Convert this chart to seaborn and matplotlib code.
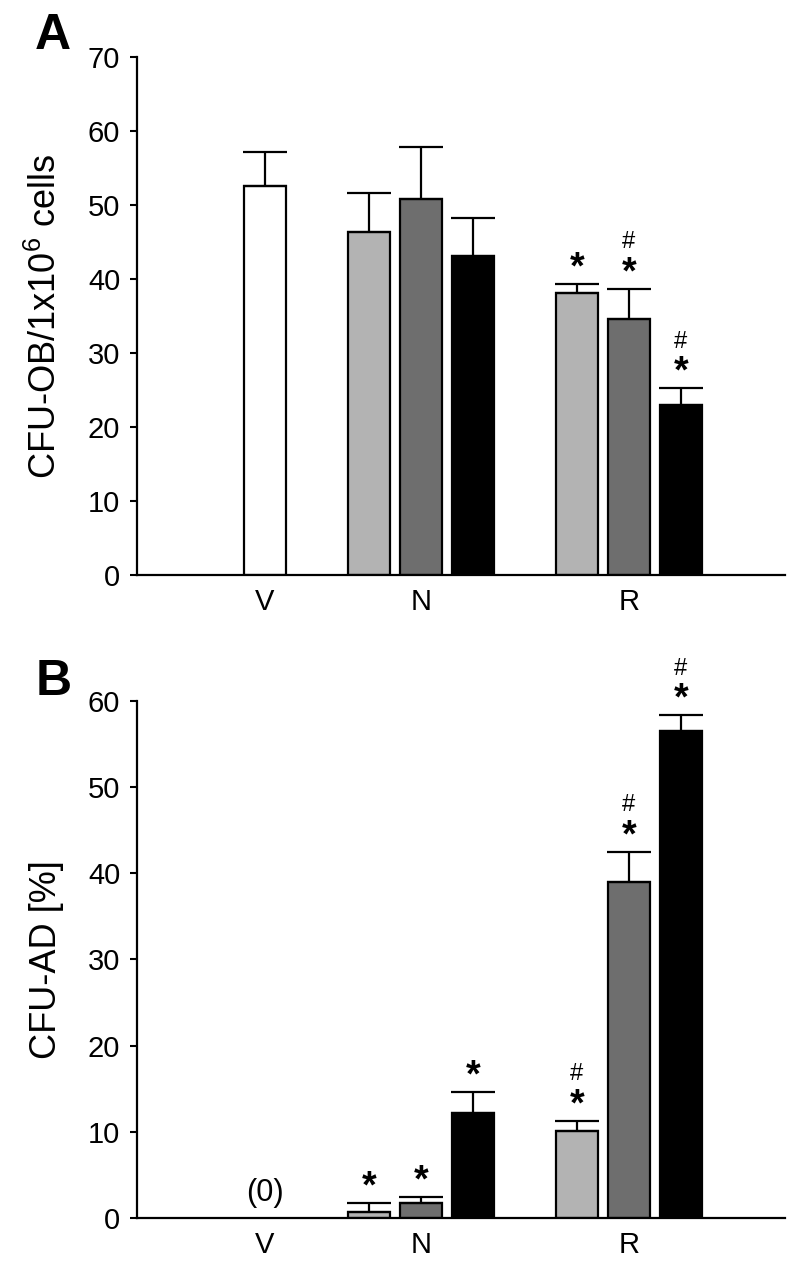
import seaborn as sns
import matplotlib.pyplot as plt
import pandas as pd
import numpy as np

# bar layout: V has one bar, N and R have three doses each
groups = ["V", "N", "R"]
group_pos = [0, 3, 7]
bar_pos = [0, 2, 3, 4, 6, 7, 8]
bar_shade = ["none", "low", "mid", "high", "low", "mid", "high"]
shade_colors = {"none": "white", "low": "#b3b3b3", "mid": "#6e6e6e", "high": "black"}

# panel A: CFU-OB per 1x10^6 cells
ob_mean = [52.6, 46.4, 50.8, 43.1, 38.1, 34.6, 23.0]
ob_sem = [4.6, 5.2, 7.1, 5.2, 1.2, 4.1, 2.3]
ob_star = [0, 0, 0, 0, 1, 1, 1]
ob_hash = [0, 0, 0, 0, 0, 1, 1]

# panel B: CFU-AD in %, V is zero (no bar)
ad_mean = [np.nan, 0.7, 1.8, 12.2, 10.1, 39.0, 56.5]
ad_sem = [np.nan, 1.0, 0.6, 2.4, 1.2, 3.5, 1.8]
ad_star = [0, 1, 1, 1, 1, 1, 1]
ad_hash = [0, 0, 0, 0, 1, 1, 1]

sns.set_style("ticks")
plt.rcParams["font.family"] = ["Liberation Sans", "DejaVu Sans"]
plt.rcParams["mathtext.default"] = "regular"
for key in ["text.color", "axes.labelcolor", "xtick.color", "ytick.color", "axes.edgecolor"]:
    plt.rcParams[key] = "black"

FS = 21


def draw_panel(ax, mean, sem, star, hsh, ymax, ylabel):
    df = pd.DataFrame({"pos": bar_pos, "mean": mean, "sem": sem, "shade": bar_shade})
    df = df.dropna()
    sns.barplot(data=df, x="pos", y="mean", hue="shade", palette=shade_colors,
                hue_order=list(shade_colors), native_scale=True, width=0.81,
                edgecolor="black", linewidth=1.6, errorbar=None, legend=False, ax=ax)
    ax.errorbar(df["pos"], df["mean"], yerr=[np.zeros(len(df)), df["sem"]], fmt="none",
                ecolor="black", elinewidth=1.6, capsize=15.5, capthick=1.6, zorder=3)
    for i, row in df.iterrows():
        top = row["mean"] + row["sem"]
        if star[i]:
            ax.annotate("*", xy=(row["pos"], top), xytext=(0, 4), textcoords="offset points",
                        ha="center", va="baseline", fontsize=27, fontweight="bold",
                        annotation_clip=False)
        if hsh[i]:
            ax.annotate("#", xy=(row["pos"], top), xytext=(0, 29), textcoords="offset points",
                        ha="center", va="baseline", fontsize=17, annotation_clip=False)
    ax.set_xlim(-2.46, 10.0)
    ax.set_ylim(0, ymax)
    ax.set_yticks(range(0, ymax + 1, 10))
    ax.set_xticks(group_pos)
    ax.set_xticklabels(groups)
    ax.set_xlabel("")
    ax.set_ylabel(ylabel, fontsize=26, labelpad=17)
    ax.tick_params(axis="y", labelsize=FS, length=5, width=1.5, pad=7)
    ax.tick_params(axis="x", labelsize=FS, length=0, pad=9)
    sns.despine(ax=ax)
    for s in ["left", "bottom"]:
        ax.spines[s].set_linewidth(1.6)


fig = plt.figure(figsize=(8, 12.68), dpi=100)
ax_a = fig.add_axes([0.171, 0.5465, 0.81, 0.4085])
ax_b = fig.add_axes([0.171, 0.0394, 0.81, 0.408])

draw_panel(ax_a, ob_mean, ob_sem, ob_star, ob_hash, 70, "CFU-OB/1x10$^6$ cells")
draw_panel(ax_b, ad_mean, ad_sem, ad_star, ad_hash, 60, "CFU-AD [%]")
ax_b.annotate("(0)", xy=(group_pos[0], 0), xytext=(0, 18), textcoords="offset points",
              ha="center", va="center", fontsize=22)

fig.text(0.044, 0.961, "A", fontsize=36, fontweight="bold", va="baseline")
fig.text(0.044, 0.452, "B", fontsize=36, fontweight="bold", va="baseline")

fig.savefig("out.png", dpi=100)
